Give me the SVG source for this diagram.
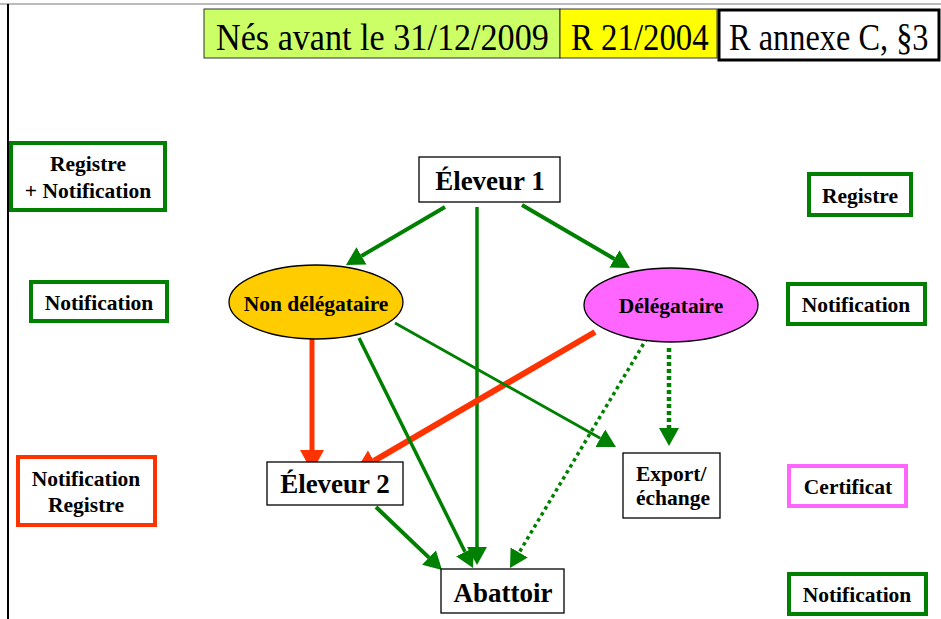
<svg xmlns="http://www.w3.org/2000/svg" width="941" height="619" viewBox="0 0 941 619">
<style>
.t{font-family:"Liberation Serif","Times New Roman",serif;fill:#000}
.b{font-weight:bold;font-size:21.5px;text-anchor:middle}
.big{font-weight:bold;font-size:27px;text-anchor:middle}
.hdr{font-size:38px}
.gbox{fill:#fff;stroke:#008000;stroke-width:4}
.rbox{fill:#fff;stroke:#FF3300;stroke-width:4}
.pbox{fill:#fff;stroke:#FF66FF;stroke-width:4}
.node{fill:#fff;stroke:#000;stroke-width:1.3}
.g{stroke:#008000;fill:none;marker-end:url(#ag)}
.r{stroke:#FF3300;fill:none;marker-end:url(#ar)}
</style>
<defs>
<marker id="ag" markerUnits="userSpaceOnUse" viewBox="0 -12 20 24" refX="0" refY="0" markerWidth="20" markerHeight="24" orient="auto">
<path d="M0,-10 L18,0 L0,10 z" fill="#008000"/>
</marker>
<marker id="ar" markerUnits="userSpaceOnUse" viewBox="0 -14 24 28" refX="0" refY="0" markerWidth="24" markerHeight="28" orient="auto">
<path d="M0,-12 L22,0 L0,12 z" fill="#FF3300"/>
</marker>
</defs>
<rect width="941" height="619" fill="#fff"/>
<line x1="0" y1="4" x2="941" y2="4" stroke="#bbb" stroke-width="2"/>
<line x1="8" y1="4" x2="8" y2="619" stroke="#000" stroke-width="2"/>

<g id="header">
<rect x="204" y="9" width="356" height="49" fill="#CCFF66" stroke="#333" stroke-width="1"/>
<rect x="560" y="9" width="157" height="49" fill="#FFFF00" stroke="#333" stroke-width="1"/>
<rect x="719" y="10" width="220" height="50" fill="#fff" stroke="#000" stroke-width="3"/>
<text class="t hdr" transform="translate(216 50) scale(0.86 1)" textLength="387" lengthAdjust="spacingAndGlyphs">Nés avant le 31/12/2009</text>
<text class="t hdr" transform="translate(571 50) scale(0.86 1)" textLength="160" lengthAdjust="spacingAndGlyphs">R 21/2004</text>
<text class="t hdr" transform="translate(729 50) scale(0.86 1)" textLength="232" lengthAdjust="spacingAndGlyphs">R annexe C, §3</text>
</g>

<g id="left-registre-notification">
<rect class="gbox" x="11" y="143" width="154" height="67"/>
<text class="t b" x="88" y="171">Registre</text>
<text class="t b" x="88" y="198">+ Notification</text>
</g>
<g id="left-notification">
<rect class="gbox" x="31" y="282" width="136" height="39"/>
<text class="t b" x="99" y="310">Notification</text>
</g>
<g id="left-notification-registre">
<rect class="rbox" x="18" y="457" width="137" height="68"/>
<text class="t b" x="86" y="486">Notification</text>
<text class="t b" x="86" y="512">Registre</text>
</g>
<g id="right-registre">
<rect class="gbox" x="809" y="174" width="102" height="41"/>
<text class="t b" x="860" y="203">Registre</text>
</g>
<g id="right-notification-1">
<rect class="gbox" x="788" y="284" width="137" height="40"/>
<text class="t b" x="856" y="312">Notification</text>
</g>
<g id="right-certificat">
<rect class="pbox" x="789" y="466" width="117" height="40"/>
<text class="t b" x="848" y="494">Certificat</text>
</g>
<g id="right-notification-2">
<rect class="gbox" x="789" y="574" width="137" height="40"/>
<text class="t b" x="857" y="602">Notification</text>
</g>

<g id="connectors">
<line class="g" x1="445" y1="207" x2="361.5" y2="255.9" stroke-width="4"/>
<line class="g" x1="477" y1="207" x2="477" y2="547" stroke-width="3.5"/>
<line class="g" x1="522" y1="205" x2="614.4" y2="258.9" stroke-width="4"/>
<line class="r" x1="312" y1="338" x2="312" y2="450" stroke-width="5"/>
<line class="r" x1="595" y1="332" x2="374" y2="460.9" stroke-width="6"/>
<line class="g" x1="359" y1="338" x2="465" y2="551.9" stroke-width="3.5"/>
<line class="g" x1="395" y1="323" x2="600.3" y2="438.2" stroke-width="2.8"/>
<line class="g" x1="647" y1="338" x2="519.2" y2="552.5" stroke-width="3.5" stroke-dasharray="3.5 3.5"/>
<line class="g" x1="669" y1="348" x2="669" y2="428" stroke-width="4.5" stroke-dasharray="4 3"/>
<line class="g" x1="376" y1="507" x2="429" y2="557.6" stroke-width="4"/>
</g>

<g id="eleveur1">
<rect class="node" x="419" y="157" width="141" height="45"/>
<text class="t big" x="490" y="190">Éleveur 1</text>
</g>
<g id="non-delegataire">
<ellipse cx="316" cy="302" rx="87" ry="37" fill="#FFCC00" stroke="#000" stroke-width="1.3"/>
<text class="t b" x="316" y="311">Non délégataire</text>
</g>
<g id="delegataire">
<ellipse cx="671" cy="305" rx="87" ry="37" fill="#FF66FF" stroke="#000" stroke-width="1.3"/>
<text class="t b" x="671" y="313">Délégataire</text>
</g>
<g id="eleveur2">
<rect class="node" x="267" y="462" width="136" height="43"/>
<text class="t big" x="335" y="493">Éleveur 2</text>
</g>
<g id="export">
<rect class="node" x="623" y="453" width="97" height="65"/>
<text class="t b" x="636" y="481" style="text-anchor:start">Export/</text>
<text class="t b" x="636" y="505" style="text-anchor:start">échange</text>
</g>
<g id="abattoir">
<rect class="node" x="441" y="569" width="123" height="44"/>
<text class="t big" x="503" y="602">Abattoir</text>
</g>
</svg>
